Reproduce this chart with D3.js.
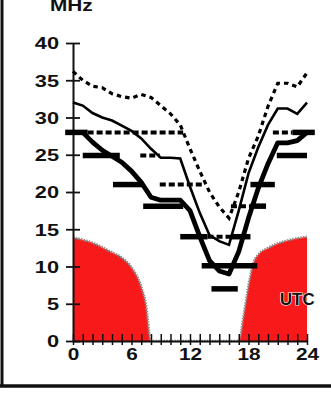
<!DOCTYPE html>
<html><head><meta charset="utf-8">
<script src="https://cdn.jsdelivr.net/npm/d3@7"></script>
<style>html,body{margin:0;padding:0;background:#fff;}svg{display:block;}</style>
</head><body>
<script>
// ---- data ----
const hours = d3.range(0, 25);
const upperMUF = [36.2,35,34.2,34,33.2,32.8,32.6,33.1,32.7,31.6,30.5,29,25.8,22.8,20,18,16.5,20,24.5,27.5,31.5,34.6,34.6,34.1,36];
const medianMUF = [32,31.6,30.6,30,29.6,28.9,28.2,27.2,25.8,24.6,24.6,24.5,20.7,17.2,14.2,13.4,12.9,17.5,22.5,26,29,31.2,31.2,30.5,32];
const lowerFOT = [28,28,26.7,25.6,24.8,24,22.8,21.3,19.3,18.9,18.9,18.9,17.5,14,10.8,9.4,9,12,16.5,20.5,23.8,26.6,26.6,26.9,28];
const bandSolid = [
  [28, -0.8, 1.5], [28, 22.5, 24.8],
  [24.9, 1, 4.8], [24.9, 20.9, 24],
  [21, 4.1, 7.2], [21, 18.2, 20.7],
  [18.1, 7.2, 11.3], [18.1, 18.2, 19.8],
  [14, 11, 13.8], [14, 16.2, 18.2],
  [10.1, 13.2, 18.9],
  [7, 14.2, 16.9]
];
const bandDashed = [
  [28, 1.5, 11.3], [28, 20.5, 22.5],
  [24.9, 6.9, 8.9],
  [21, 8.9, 13.3],
  [18.1, 16.2, 18.2],
  [14, 13.8, 16.2]
];
const daylightH = [0,1,2,3,4,5,6,7,7.5,8,17,17.5,18,18.5,19,20,21,22,23,24];
const daylightV = [13.9,13.6,13.2,12.6,11.9,11.2,9.9,7.3,4.8,0,0,3.5,7.5,10.5,11.6,12.5,13.1,13.5,13.8,14];
const yTicks = [0,5,10,15,20,25,30,35,40];
const xLabels = [0,6,12,18,24];

// ---- drawing ----
const W = 331, H = 394;
const svg = d3.select("body").append("svg").attr("width", W).attr("height", H);
svg.append("rect").attr("width", W).attr("height", H).attr("fill", "#fff");

const x = d3.scaleLinear().domain([0, 24]).range([73, 307]);
const y = d3.scaleLinear().domain([0, 40]).range([341, 43]);
const FONT = "'Liberation Sans', Arial, sans-serif";

// frame
svg.append("line").attr("x1", 2).attr("x2", 2).attr("y1", 0).attr("y2", 387)
  .attr("stroke", "#111").attr("stroke-width", 3);
svg.append("line").attr("x1", 0).attr("x2", W).attr("y1", 386).attr("y2", 386)
  .attr("stroke", "#111").attr("stroke-width", 3.5);

// red area
const dayData = daylightH.map((h, i) => [h, daylightV[i]]);
svg.append("path").datum(dayData)
  .attr("d", d3.area().x(d => x(d[0])).y0(y(0)).y1(d => y(d[1])).curve(d3.curveMonotoneX))
  .attr("fill", "#f81a1a");
svg.append("path").datum(dayData)
  .attr("d", d3.line().x(d => x(d[0])).y(d => y(d[1])).curve(d3.curveMonotoneX))
  .attr("fill", "none").attr("stroke", "#8d8d8d").attr("stroke-width", 2.5)
  .attr("stroke-dasharray", "1.5,1.2");

// axes
const gy = svg.append("g").attr("transform", `translate(${x(0)},0)`)
  .call(d3.axisLeft(y).tickValues(yTicks).tickSize(7).tickSizeOuter(0));
gy.select(".domain").attr("stroke", "#111").attr("stroke-width", 2);
gy.selectAll(".tick line").attr("x1", -7).attr("x2", 7).attr("stroke", "#111").attr("stroke-width", 1.8);
gy.selectAll(".tick text").attr("x", 0).attr("dy", "0.36em")
  .attr("transform", "translate(-14,0) scale(1.32,1)")
  .attr("font-family", FONT).attr("font-weight", "bold").attr("font-size", 16.5).attr("fill", "#111");

const gx = svg.append("g").attr("transform", `translate(0,${y(0)})`)
  .call(d3.axisBottom(x).tickValues(hours).tickFormat(d => xLabels.includes(d) ? d : "").tickSize(4).tickSizeOuter(0));
gx.select(".domain").attr("stroke", "#111").attr("stroke-width", 2);
gx.selectAll(".tick line").attr("y1", -7).attr("y2", 4).attr("stroke", "#111").attr("stroke-width", 1.5);
gx.selectAll(".tick text").attr("y", 19).attr("dy", 0)
  .attr("transform", "scale(1.3,1)")
  .attr("font-family", FONT).attr("font-weight", "bold").attr("font-size", 16).attr("fill", "#111");

// band bars
svg.append("g").selectAll("line").data(bandDashed).join("line")
  .attr("x1", d => x(d[1])).attr("x2", d => x(d[2]))
  .attr("y1", d => y(d[0])).attr("y2", d => y(d[0]))
  .attr("stroke", "#000").attr("stroke-width", 4).attr("stroke-dasharray", "6,3");
svg.append("g").selectAll("line").data(bandSolid).join("line")
  .attr("x1", d => x(d[1])).attr("x2", d => x(d[2]))
  .attr("y1", d => y(d[0])).attr("y2", d => y(d[0]))
  .attr("stroke", "#000").attr("stroke-width", 5.5);

// curves
const line = d3.line().x((d, i) => x(hours[i])).y(d => y(d));
svg.append("path").datum(upperMUF).attr("d", line)
  .attr("fill", "none").attr("stroke", "#000").attr("stroke-width", 3.2)
  .attr("stroke-dasharray", "4.5,4");
svg.append("path").datum(medianMUF).attr("d", line)
  .attr("fill", "none").attr("stroke", "#000").attr("stroke-width", 2.6);
svg.append("path").datum(lowerFOT).attr("d", line)
  .attr("fill", "none").attr("stroke", "#000").attr("stroke-width", 4.8)
  .attr("stroke-linejoin", "round");

// labels
svg.append("text").text("MHz")
  .attr("transform", "translate(50,10.5) scale(1.3,1)")
  .attr("font-family", FONT).attr("font-weight", "bold").attr("font-size", 16).attr("fill", "#111");
svg.append("text").text("UTC")
  .attr("transform", "translate(280,305) scale(1.05,1)")
  .attr("font-family", FONT).attr("font-weight", "bold").attr("font-size", 16).attr("fill", "#111")
  .attr("stroke", "#fff").attr("stroke-width", 1.2).attr("paint-order", "stroke");
</script>
</body></html>
